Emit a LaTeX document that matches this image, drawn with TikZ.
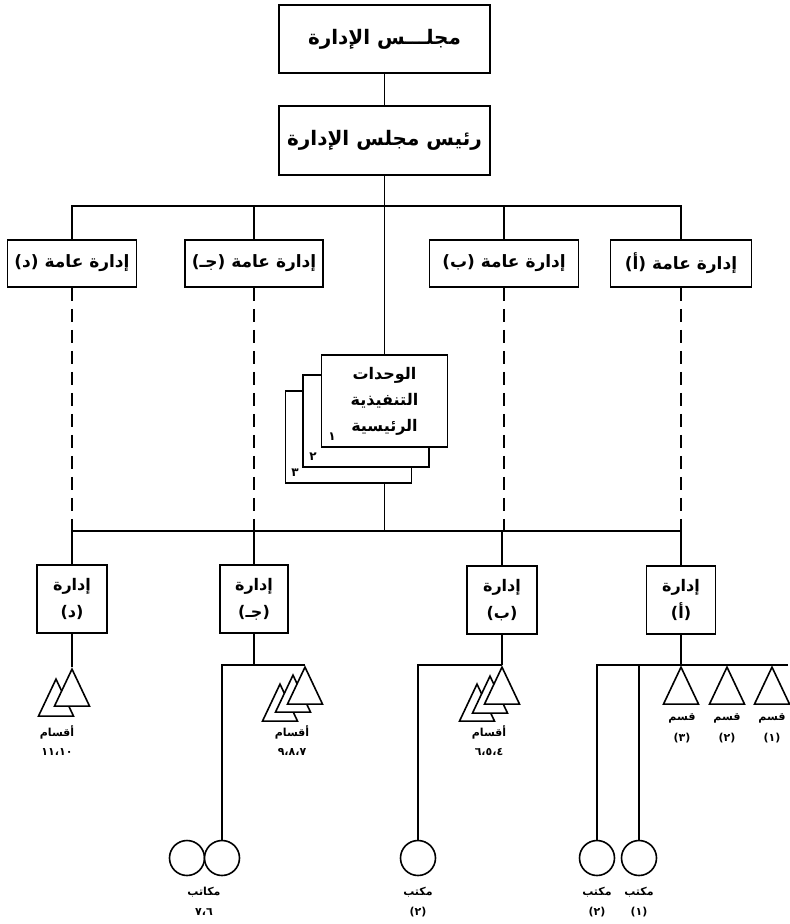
\documentclass[tikz,border=0pt]{standalone}
\usepackage{fontspec}
\usepackage{tikz}
\usetikzlibrary{shapes.geometric}
\TeXXeTstate=1
\newfontfamily\arabicfont[Script=Arabic]{DejaVu Sans}

\tikzset{
  box/.style={draw, line width=1.8pt, fill=white, inner sep=0pt, align=center},
  card/.style={draw, line width=1.5pt, fill=white, minimum width=126pt, minimum height=92pt, inner sep=0pt, align=center},
  sectri/.style={draw, line width=1.6pt, fill=white, isosceles triangle, isosceles triangle stretches, shape border rotate=90, minimum width=35pt, minimum height=37pt, inner sep=0pt, anchor=apex},
  office/.style={draw, circle, line width=1.6pt, fill=white, minimum size=35pt, inner sep=0pt},
  lbl/.style={font=\arabicfont\bfseries\fontsize{11}{12}\selectfont, inner sep=0pt},
  link/.style={line width=1.6pt},
  dashlink/.style={line width=2.2pt, dash pattern=on 13pt off 8pt}
}

\begin{document}
\begin{tikzpicture}[x=1pt,y=-1pt]
\useasboundingbox (0,0) rectangle (790,924);
\node[box, minimum width=211pt, minimum height=68pt, font=\arabicfont\bfseries\fontsize{20}{24}\selectfont] (board) at (384.5,39) {\beginR مجلـــس الإدارة\endR};
\node[box, minimum width=211pt, minimum height=69pt, font=\arabicfont\bfseries\fontsize{20}{24}\selectfont] (chair) at (384.5,140.5) {\beginR رئيس مجلس الإدارة\endR};
\draw[link] (board) -- (chair);

\node[box, minimum width=129pt, minimum height=47pt, font=\arabicfont\bfseries\fontsize{17}{20}\selectfont] (gd) at (72,263.5) {\beginR إدارة عامة (د)\endR};
\node[box, minimum width=138pt, minimum height=47pt, font=\arabicfont\bfseries\fontsize{17}{20}\selectfont] (gc) at (254,263.5) {\beginR إدارة عامة (جـ)\endR};
\node[box, minimum width=149pt, minimum height=47pt, font=\arabicfont\bfseries\fontsize{17}{20}\selectfont] (gb) at (504,263.5) {\beginR إدارة عامة (ب)\endR};
\node[box, minimum width=141pt, minimum height=47pt, font=\arabicfont\bfseries\fontsize{17}{20}\selectfont] (ga) at (681,263.5) {\beginR إدارة عامة (أ)\endR};
\draw[link] (gd.north) -- ++(0,-33) -| (ga.north);
\draw[link] (gc.north) -- ++(0,-33);
\draw[link] (gb.north) -- ++(0,-33);

\node[card] (u3) at (348.5,437) {};
\node[card] (u2) at (366,421) {};
\node[card, font=\arabicfont\bfseries\fontsize{16}{26}\selectfont] (u1) at (384.5,401) {\beginR الوحدات\endR\\\beginR التنفيذية\endR\\\beginR الرئيسية\endR};
\node[lbl, font=\arabicfont\bfseries\fontsize{12}{12}\selectfont] (c1) at (332,437) {١};
\node[lbl, font=\arabicfont\bfseries\fontsize{12}{12}\selectfont] (c2) at (313,457) {٢};
\node[lbl, font=\arabicfont\bfseries\fontsize{12}{12}\selectfont] (c3) at (295,473) {٣};
\draw[link] (chair.south) -- (u1.north);

\coordinate (busL) at (384.5,531);
\node[box, minimum width=70pt, minimum height=68pt, font=\arabicfont\bfseries\fontsize{16}{27}\selectfont] (md) at (72,599) {\beginR إدارة\endR\\\beginR(د)\endR};
\node[box, minimum width=68pt, minimum height=68pt, font=\arabicfont\bfseries\fontsize{16}{27}\selectfont] (mc) at (254,599) {\beginR إدارة\endR\\\beginR(جـ)\endR};
\node[box, minimum width=70pt, minimum height=68pt, font=\arabicfont\bfseries\fontsize{16}{27}\selectfont] (mb) at (502,600) {\beginR إدارة\endR\\\beginR(ب)\endR};
\node[box, minimum width=69pt, minimum height=68pt, font=\arabicfont\bfseries\fontsize{16}{27}\selectfont] (ma) at (681,600) {\beginR إدارة\endR\\\beginR(أ)\endR};
\draw[dashlink] (gd.south) -- (gd.south |- busL);
\draw[dashlink] (gc.south) -- (gc.south |- busL);
\draw[dashlink] (gb.south) -- (gb.south |- busL);
\draw[dashlink] (ga.south) -- (ga.south |- busL);
\draw[link] (md.north) -- (md.north |- busL) -| (ma.north);
\draw[link] (mc.north) -- (mc.north |- busL);
\draw[link] (mb.north) -- (mb.north |- busL);
\draw[link] (u1.north |- u3.south) -- (busL);

\node[sectri] (td2) at (56,677) {};
\node[sectri] (td1) at (72,667) {};
\draw[link] (md.south) -- (td1.apex);
\node[lbl] (ld1) at (57,732) {\beginR أقسام\endR};
\node[lbl] (ld2) at (57,752) {١١،١٠};

\node[sectri] (tc3) at (280,682) {};
\node[sectri] (tc2) at (293,673) {};
\node[sectri] (tc1) at (305,665) {};
\node[office] (kc2) at (187,858) {};
\node[office] (kc1) at (222,858) {};
\draw[link] (mc.south) -- (mc.south |- tc1.apex);
\draw[link] (kc1.north) |- (tc1.apex);
\node[lbl] (lc1) at (292,732) {\beginR أقسام\endR};
\node[lbl] (lc2) at (292,752) {٩،٨،٧};
\node[lbl] (lk1) at (204,892) {\beginR مكاتب\endR};
\node[lbl] (lk2) at (204,912) {٧،٦};

\node[sectri] (tb3) at (477,682) {};
\node[sectri] (tb2) at (490,674) {};
\node[sectri] (tb1) at (502,665) {};
\node[office] (kb) at (418,858) {};
\draw[link] (mb.south) -- (tb1.apex);
\draw[link] (kb.north) |- (tb1.apex);
\node[lbl] (lb1) at (489,732) {\beginR أقسام\endR};
\node[lbl] (lb2) at (489,752) {٦،٥،٤};
\node[lbl] (lk3) at (418,892) {\beginR مكتب\endR};
\node[lbl] (lk4) at (418,912) {(٢)};

\coordinate (aend) at (788,665);
\node[sectri] (ta1) at (681,665) {};
\node[sectri] (ta2) at (727,665) {};
\node[sectri] (ta3) at (772,665) {};
\node[office] (ka2) at (597,858) {};
\node[office] (ka1) at (639,858) {};
\draw[link] (ma.south) -- (ta1.apex);
\draw[link] (ka2.north) |- (aend);
\draw[link] (ka1.north) -- (ka1.north |- aend);
\node[lbl] (la1) at (682,718) {\beginR قسم\endR};
\node[lbl] (la2) at (727,718) {\beginR قسم\endR};
\node[lbl] (la3) at (772,718) {\beginR قسم\endR};
\node[lbl] (la4) at (682,738) {(٣)};
\node[lbl] (la5) at (727,738) {(٢)};
\node[lbl] (la6) at (772,738) {(١)};
\node[lbl] (lk5) at (597,892) {\beginR مكتب\endR};
\node[lbl] (lk6) at (597,912) {(٢)};
\node[lbl] (lk7) at (639,892) {\beginR مكتب\endR};
\node[lbl] (lk8) at (639,912) {(١)};
\end{tikzpicture}
\end{document}
